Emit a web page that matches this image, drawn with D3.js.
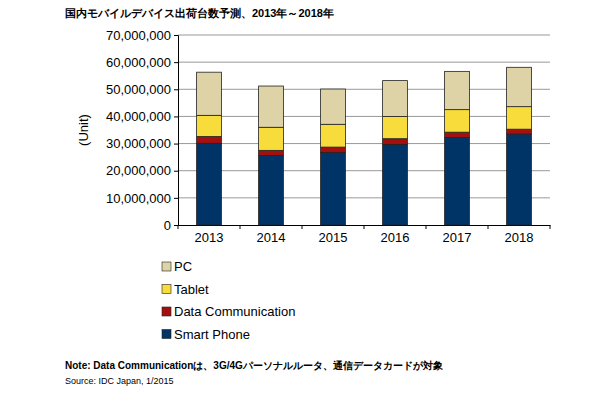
<!DOCTYPE html><html><head><meta charset="utf-8"><script src="https://cdn.jsdelivr.net/npm/d3@7"></script>
<style>body{margin:0;background:#fff}text{font-family:"Liberation Sans",Arial,sans-serif}</style></head><body><svg width="610" height="400"></svg>
<script>
const years=["2013","2014","2015","2016","2017","2018"];
const smartPhone=[30.1,25.6,26.7,29.7,32.2,33.5].map(v=>v*1e6);
const dataComm=[2.5,1.9,2.0,2.1,2.0,1.8].map(v=>v*1e6);
const tablet=[7.8,8.5,8.4,8.2,8.3,8.3].map(v=>v*1e6);
const pc=[15.9,15.2,13.0,13.2,14.1,14.5].map(v=>v*1e6);
const seriesNames=["Smart Phone","Data Communication","Tablet","PC"];
const colors=["#003366","#a50f0f","#f7dc3b","#ddd3a6"];
const yTicks=[0,1e7,2e7,3e7,4e7,5e7,6e7,7e7];
const svg=d3.select("svg");
const L=178,R=550,T=35,B=225;
const x=d3.scaleBand().domain(years).range([L,R]).paddingInner(0.6).paddingOuter(0.3);
const y=d3.scaleLinear().domain([0,7e7]).range([B,T]);
svg.append("text").attr("x",65).attr("y",17).attr("font-size",11).attr("font-weight","bold").attr("font-family","Noto Sans CJK JP").text("国内モバイルデバイス出荷台数予測、2013年～2018年");
svg.append("g").selectAll("line").data(yTicks.slice(1)).join("line").attr("x1",L).attr("x2",R).attr("y1",y).attr("y2",y).attr("stroke","#999");
const ya=svg.append("g").attr("transform",`translate(${L},0)`).call(d3.axisLeft(y).tickValues(yTicks).tickFormat(d3.format(",")).tickSize(4));
ya.selectAll("text").attr("font-size",13).attr("fill","#000");ya.select(".domain").attr("stroke","#000");
const xa=svg.append("g").attr("transform",`translate(0,${B})`).call(d3.axisBottom(x).tickSize(0).tickPadding(8));
xa.select(".domain").attr("stroke","#000");xa.selectAll("text").attr("font-size",13).attr("fill","#000");
const step=x.step();
svg.append("g").selectAll("line").data(years.concat(["end"])).join("line").attr("x1",(d,i)=>x(years[0])-(x.step()-x.bandwidth())/2+i*step).attr("x2",(d,i)=>x(years[0])-(x.step()-x.bandwidth())/2+i*step).attr("y1",B).attr("y2",B+4).attr("stroke","#000");
svg.append("text").attr("transform","translate(88,130) rotate(-90)").attr("text-anchor","middle").attr("font-size",13).text("(Unit)");
const rows=years.map((yr,i)=>({year:yr,"Smart Phone":smartPhone[i],"Data Communication":dataComm[i],"Tablet":tablet[i],"PC":pc[i]}));
const stack=d3.stack().keys(seriesNames)(rows);
svg.append("g").selectAll("g").data(stack).join("g").attr("fill",(d,i)=>colors[i]).selectAll("rect").data(d=>d).join("rect")
 .attr("x",d=>x(d.data.year)).attr("width",x.bandwidth()).attr("y",d=>y(d[1])).attr("height",d=>y(d[0])-y(d[1])).attr("stroke","#222").attr("stroke-width",0.8);
const leg=svg.append("g");
const order=[3,2,1,0];
order.forEach((k,j)=>{const yy=268+j*22.5;
 leg.append("rect").attr("x",162).attr("y",yy-6).attr("width",9).attr("height",9).attr("fill",colors[k]).attr("stroke","#222").attr("stroke-width",0.6);
 leg.append("text").attr("x",174).attr("y",yy+3).attr("font-size",13).text(seriesNames[k]);});
svg.append("text").attr("x",65).attr("y",369).attr("font-size",10).attr("font-weight","bold").text("Note: Data Communicationは、3G/4Gパーソナルルータ、通信データカードが対象");
svg.append("text").attr("x",65).attr("y",384).attr("font-size",9).text("Source: IDC Japan, 1/2015");
</script></body></html>
